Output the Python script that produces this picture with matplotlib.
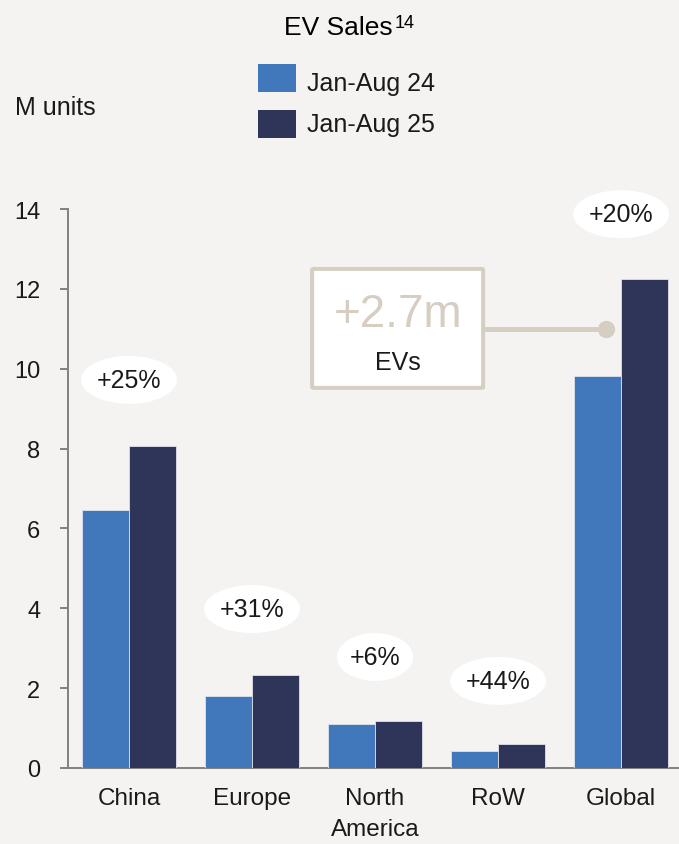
import matplotlib
matplotlib.use("Agg")
import matplotlib.pyplot as plt
from matplotlib.patches import Ellipse, Rectangle, FancyBboxPatch
import numpy as np

plt.rcParams['font.family'] = ['Liberation Sans', 'DejaVu Sans']

categories = ["China", "Europe", "North\nAmerica", "RoW", "Global"]
sales_24 = [6.46, 1.80, 1.10, 0.43, 9.82]
sales_25 = [8.06, 2.33, 1.18, 0.60, 12.25]
growth_labels = ["+25%", "+31%", "+6%", "+44%", "+20%"]
growth_label_y = [9.72, 3.98, 2.78, 2.18, 13.87]
series_names = ["Jan-Aug 24", "Jan-Aug 25"]
yticks = [0, 2, 4, 6, 8, 10, 12, 14]

BG = "#f5f3f1"
C24 = "#4178bc"
C25 = "#2e3558"
BEIGE = "#d6cec3"
TXT = "#1a1a1a"
SPINE = "#808080"

W, H = 679, 845
fig = plt.figure(figsize=(W / 100, H / 100), dpi=100, facecolor=BG)

def fx(x):
    return x / W

def fy(y):
    return 1 - y / H

ax = fig.add_axes([fx(68), fy(769), (679 - 68) / W, (769 - 210) / H])
ax.set_facecolor(BG)

x = np.arange(len(categories))
bw = 0.382
ax.bar(x - bw / 2, sales_24, width=bw, color=C24, edgecolor="#dfe3ea", linewidth=0.6, zorder=3)
ax.bar(x + bw / 2, sales_25, width=bw, color=C25, edgecolor="#dfe3ea", linewidth=0.6, zorder=3)

ax.set_xlim(-0.496, 4.47)
ax.set_ylim(0, 14)
ax.set_yticks(yticks)
ax.set_yticklabels([str(t) for t in yticks])
ax.set_xticks(x)
ax.set_xticklabels(categories, linespacing=1.5)

for s in ["top", "right"]:
    ax.spines[s].set_visible(False)
for s in ["left", "bottom"]:
    ax.spines[s].set_color(SPINE)
    ax.spines[s].set_linewidth(1.4)
ax.tick_params(axis="y", length=6, width=1.4, color=SPINE, labelsize=17, labelcolor=TXT, pad=14)
ax.tick_params(axis="x", length=0, labelsize=17.5, labelcolor=TXT, pad=14)

# growth ellipses
ew, eh = 0.78, 1.2
for xi, lab, ly in zip(x, growth_labels, growth_label_y):
    w = ew if len(lab) > 3 else 0.62
    ax.add_patch(Ellipse((xi, ly), w, eh, facecolor="white", edgecolor="none", zorder=4, clip_on=False))
    ax.text(xi, ly, lab, ha="center", va="center", fontsize=18, color=TXT, zorder=5, clip_on=False)

# callout box
ax.plot([2.878, 3.878], [11.0, 11.0], color=BEIGE, lw=3.6, zorder=4, solid_capstyle="butt")
ax.plot([3.878], [11.0], marker="o", markersize=11.5, color=BEIGE, zorder=4)
box = FancyBboxPatch((1.488, 9.52), 2.878 - 1.488, 12.50 - 9.52,
                     boxstyle="round,pad=0,rounding_size=0.02",
                     facecolor="white", edgecolor=BEIGE, linewidth=2.9, zorder=5)
ax.add_patch(box)
ax.text((1.488 + 2.878) / 2, 11.36, "+2.7m", ha="center", va="center", fontsize=33, color=BEIGE, zorder=6)
ax.text((1.488 + 2.878) / 2, 10.18, "EVs", ha="center", va="center", fontsize=18, color=TXT, zorder=6)

# title
fig.text(fx(284), fy(35), "EV Sales", ha="left", va="baseline", fontsize=19, color="black")
fig.text(fx(395), fy(28), "14", ha="left", va="baseline", fontsize=13, color="black")

# legend
for i, (name, col) in enumerate(zip(series_names, [C24, C25])):
    top = 65 + i * 46
    fig.patches.append(Rectangle((fx(258), fy(top + 28)), 38 / W, 28 / H,
                                 transform=fig.transFigure, facecolor=col, edgecolor="none"))
    fig.text(fx(307), fy(91 + i * 41), name, ha="left", va="baseline", fontsize=18, color=TXT)

fig.text(fx(15), fy(115), "M units", ha="left", va="baseline", fontsize=18, color=TXT)

fig.savefig("out.png", dpi=100, facecolor=BG)
